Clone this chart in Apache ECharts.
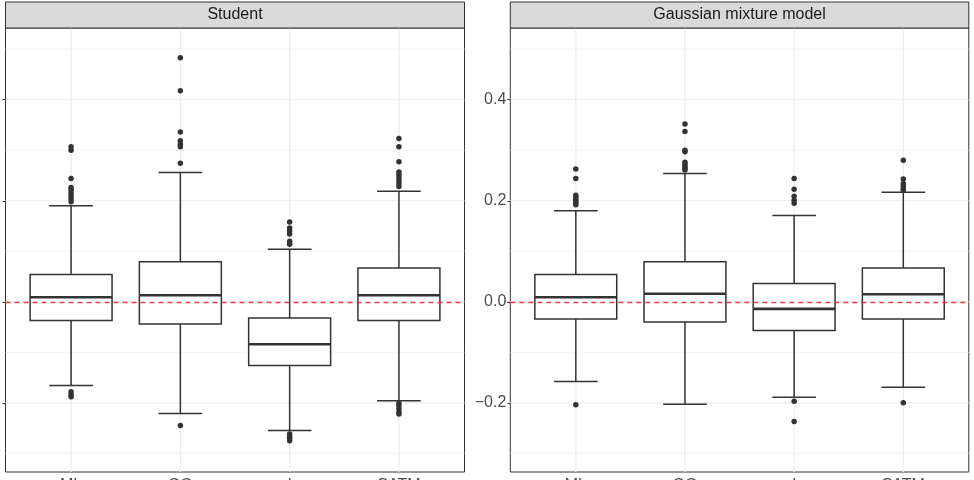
<!DOCTYPE html>
<html>
<head>
<meta charset="utf-8">
<script src="https://cdn.jsdelivr.net/npm/echarts@6/dist/echarts.min.js"></script>
<style>html,body{margin:0;padding:0;background:#fff;}#c{width:974px;height:480px;}</style>
</head>
<body>
<div id="c"></div>
<script>
const categories = ['ML', 'GG', 'I', 'SATM'];
const panelTitles = ['Student', 'Gaussian mixture model'];
// [lower whisker, Q1, median, Q3, upper whisker]
const studentStats = [
  [-0.166, -0.037, 0.009, 0.054, 0.190],
  [-0.221, -0.044, 0.013, 0.079, 0.256],
  [-0.255, -0.126, -0.084, -0.032, 0.104],
  [-0.196, -0.037, 0.013, 0.067, 0.219]
];
const studentOutliers = [
  [0.307, 0.300, 0.244, 0.226, 0.222, 0.216, 0.210, 0.204, 0.198, -0.178, -0.184, -0.188],
  [0.483, 0.418, 0.336, 0.319, 0.312, 0.307, 0.274, -0.245],
  [0.158, 0.146, 0.140, 0.134, 0.120, 0.114, -0.262, -0.266, -0.270, -0.275],
  [0.323, 0.307, 0.277, 0.257, 0.252, 0.246, 0.240, 0.234, 0.228, -0.201, -0.206, -0.212, -0.218, -0.222]
];
const gmmStats = [
  [-0.158, -0.034, 0.009, 0.054, 0.180],
  [-0.203, -0.040, 0.016, 0.079, 0.254],
  [-0.189, -0.057, -0.014, 0.036, 0.171],
  [-0.169, -0.034, 0.015, 0.067, 0.217]
];
const gmmOutliers = [
  [0.263, 0.244, 0.211, 0.207, 0.203, 0.199, 0.196, 0.192, -0.204],
  [0.352, 0.337, 0.300, 0.297, 0.276, 0.272, 0.268, 0.264, 0.261],
  [0.244, 0.223, 0.209, 0.201, 0.195, -0.197, -0.237],
  [0.280, 0.243, 0.234, 0.229, 0.224, 0.221, -0.200]
];
const yTicks = [-0.2, 0.0, 0.2, 0.4];
const yMinor = [-0.3, -0.1, 0.1, 0.3, 0.5];
const yRange = [-0.337, 0.542];
const refValue = 0;

const chart = echarts.init(document.getElementById('c'), null, {renderer: 'canvas'});
const FONT = 'Liberation Sans, Arial, sans-serif';
const DARK = '#333333';
const FS = 16;

const grids = [
  {left: 5.5, top: 28, width: 459, height: 444},
  {left: 510.3, top: 28, width: 458.5, height: 444}
];

function gridLineSeries(idx) {
  const data = [];
  yMinor.forEach(v => data.push(['h', v, 'minor']));
  yTicks.forEach(v => data.push(['h', v, 'major']));
  categories.forEach((c, i) => data.push(['v', i + 1, 'major']));
  return {
    type: 'custom', xAxisIndex: idx, yAxisIndex: idx, silent: true, z: 0,
    clip: true,
    data: data,
    renderItem: function (params, api) {
      const cs = params.coordSys;
      const kind = data[params.dataIndex][0];
      const val = data[params.dataIndex][1];
      const minor = data[params.dataIndex][2] === 'minor';
      let shape;
      if (kind === 'h') {
        const y = api.coord([1, val])[1];
        shape = {x1: cs.x, y1: y, x2: cs.x + cs.width, y2: y};
      } else {
        const x = api.coord([val, 0])[0];
        shape = {x1: x, y1: cs.y, x2: x, y2: cs.y + cs.height};
      }
      return {type: 'line', shape: shape,
        style: {stroke: minor ? '#f3f3f3' : '#ebebeb', lineWidth: minor ? 0.8 : 1.2}};
    }
  };
}

function boxSeries(idx, stats) {
  return {
    type: 'custom', xAxisIndex: idx, yAxisIndex: idx, z: 3,
    data: stats.map((s, i) => [i + 1].concat(s)),
    encode: {x: 0, y: [1, 2, 3, 4, 5]},
    renderItem: function (params, api) {
      const x = api.value(0);
      const mn = api.value(1), q1 = api.value(2), md = api.value(3), q3 = api.value(4), mx = api.value(5);
      const cx = api.coord([x, md])[0];
      const hb = api.size([0.75, 0])[0] / 2;
      const hc = api.size([0.4, 0])[0] / 2;
      const yMn = api.coord([x, mn])[1], yQ1 = api.coord([x, q1])[1], yMd = api.coord([x, md])[1];
      const yQ3 = api.coord([x, q3])[1], yMx = api.coord([x, mx])[1];
      const st = {stroke: DARK, lineWidth: 1.5, fill: null};
      return {type: 'group', children: [
        {type: 'line', shape: {x1: cx, y1: yQ3, x2: cx, y2: yMx}, style: st},
        {type: 'line', shape: {x1: cx, y1: yQ1, x2: cx, y2: yMn}, style: st},
        {type: 'line', shape: {x1: cx - hc, y1: yMx, x2: cx + hc, y2: yMx}, style: st},
        {type: 'line', shape: {x1: cx - hc, y1: yMn, x2: cx + hc, y2: yMn}, style: st},
        {type: 'rect', shape: {x: cx - hb, y: yQ3, width: 2 * hb, height: yQ1 - yQ3}, style: {stroke: DARK, lineWidth: 1.5, fill: '#ffffff'}},
        {type: 'line', shape: {x1: cx - hb, y1: yMd, x2: cx + hb, y2: yMd}, style: {stroke: DARK, lineWidth: 2.6}}
      ]};
    },
    markLine: {
      silent: true, symbol: 'none', z: 5,
      label: {show: false},
      lineStyle: {color: '#e0302c', type: [5, 4], width: 1.4, opacity: 0.9},
      data: [{yAxis: refValue}]
    }
  };
}

function outlierSeries(idx, outs) {
  const data = [];
  outs.forEach((arr, i) => arr.forEach(v => data.push([i + 1, v])));
  return {
    type: 'scatter', xAxisIndex: idx, yAxisIndex: idx, z: 4, silent: true,
    symbol: 'circle', symbolSize: 5.5,
    itemStyle: {color: DARK, opacity: 1},
    data: data
  };
}

function xAxis(idx) {
  return {
    type: 'value', gridIndex: idx, min: 0.4, max: 4.6,
    axisLine: {show: false},
    splitLine: {show: false},
    axisTick: {show: true, length: 3, customValues: [1, 2, 3, 4], lineStyle: {color: DARK, width: 1}},
    axisLabel: {show: true, customValues: [1, 2, 3, 4], margin: 6, fontSize: FS, color: '#4d4d4d', fontFamily: FONT,
      formatter: v => categories[Math.round(v) - 1] || ''}
  };
}

function yAxis(idx, showLabels) {
  return {
    type: 'value', gridIndex: idx, min: yRange[0], max: yRange[1],
    axisLine: {show: false},
    splitLine: {show: false},
    axisTick: {show: true, length: 3, customValues: yTicks, lineStyle: {color: DARK, width: 1}},
    axisLabel: {show: showLabels, customValues: yTicks, margin: 4, fontSize: FS, color: '#4d4d4d', fontFamily: FONT,
      formatter: v => (v < 0 ? '\u2212' : '') + Math.abs(v).toFixed(1)}
  };
}

const stripH = 26;
const graphics = [];
grids.forEach((g, i) => {
  graphics.push({type: 'rect', silent: true, z: 10,
    shape: {x: g.left, y: g.top - stripH, width: g.width, height: stripH},
    style: {fill: '#d9d9d9', stroke: DARK, lineWidth: 1}});
  graphics.push({type: 'text', silent: true, z: 11,
    x: g.left + g.width / 2, y: g.top - stripH / 2,
    style: {text: panelTitles[i], fill: '#1a1a1a', font: FS + 'px ' + FONT, align: 'center', verticalAlign: 'middle'}});
});

const option = {
  backgroundColor: '#ffffff',
  animation: false,
  grid: grids.map(g => Object.assign({show: true, backgroundColor: '#ffffff', borderColor: DARK, borderWidth: 1,
    containLabel: false, outerBoundsMode: 'none'}, g)),
  xAxis: [xAxis(0), xAxis(1)],
  yAxis: [yAxis(0, false), yAxis(1, true)],
  series: [
    gridLineSeries(0), boxSeries(0, studentStats), outlierSeries(0, studentOutliers),
    gridLineSeries(1), boxSeries(1, gmmStats), outlierSeries(1, gmmOutliers)
  ],
  graphic: graphics
};
chart.setOption(option);
</script>
</body>
</html>
